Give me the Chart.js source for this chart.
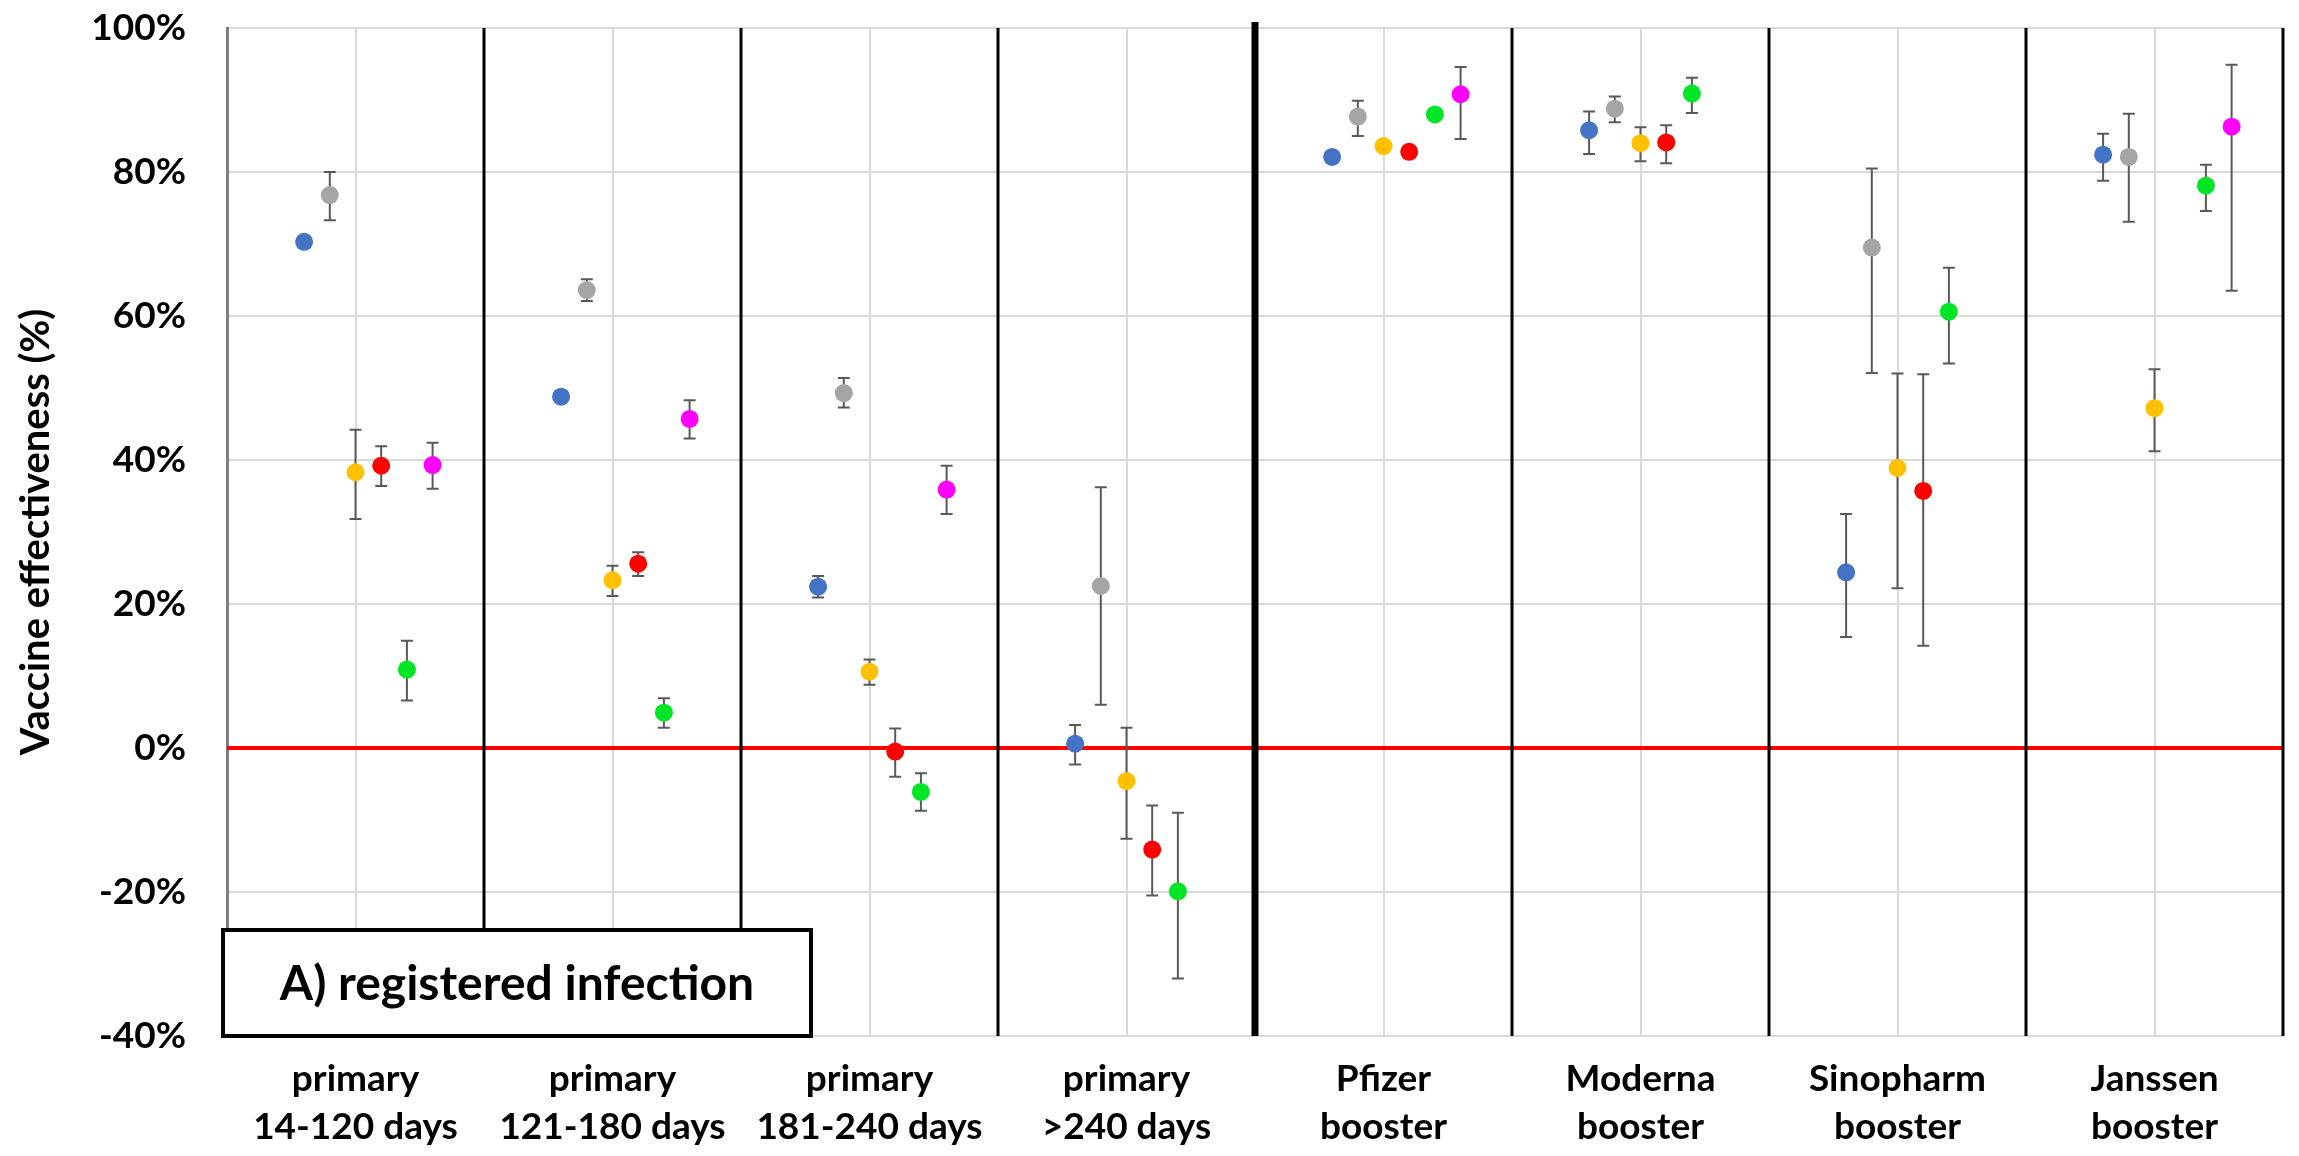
<!DOCTYPE html>
<html>
<head>
<meta charset="utf-8">
<script src="https://cdn.jsdelivr.net/npm/chart.js@4/dist/chart.umd.min.js"></script>
<style>
  body { margin: 0; background: #fff; }
  canvas { display: block; }
</style>
</head>
<body>
<canvas id="veChart" width="2299" height="1156"></canvas>
<script>
// Categories (x axis), two lines each
const categories = [
  ["primary", "14-120 days"],
  ["primary", "121-180 days"],
  ["primary", "181-240 days"],
  ["primary", ">240 days"],
  ["Pfizer", "booster"],
  ["Moderna", "booster"],
  ["Sinopharm", "booster"],
  ["Janssen", "booster"]
];
const yTicks = [-40, -20, 0, 20, 40, 60, 80, 100];
const referenceLine = 0;
const primaryCount = 4;
const panelLabel = "A) registered infection";
const yTitle = "Vaccine effectiveness (%)";

// Point estimates and 95% CI per series (null = not shown)
const blueVE  = [70.3, 48.8, 22.4, 0.6, 82.1, 85.8, 24.4, 82.4];
const blueLo  = [null, null, 20.9, -2.3, null, 82.5, 15.4, 78.8];
const blueHi  = [null, null, 23.9, 3.2, null, 88.4, 32.5, 85.3];

const grayVE  = [76.8, 63.6, 49.3, 22.5, 87.7, 88.8, 69.5, 82.1];
const grayLo  = [73.3, 62.1, 47.3, 6.0, 85.0, 86.9, 52.1, 73.1];
const grayHi  = [80.0, 65.1, 51.4, 36.2, 89.9, 90.5, 80.5, 88.1];

const yellowVE = [38.3, 23.3, 10.6, -4.6, 83.6, 84.0, 38.9, 47.2];
const yellowLo = [31.8, 21.1, 8.8, -12.6, null, 81.5, 22.2, 41.2];
const yellowHi = [44.2, 25.3, 12.3, 2.8, null, 86.2, 52.0, 52.6];

const redVE  = [39.2, 25.6, -0.5, -14.1, 82.8, 84.1, 35.7, null];
const redLo  = [36.4, 23.9, -4.0, -20.5, null, 81.2, 14.2, null];
const redHi  = [41.9, 27.2, 2.7, -8.0, null, 86.5, 51.9, null];

const greenVE = [10.9, 4.9, -6.1, -19.9, 88.0, 90.9, 60.6, 78.1];
const greenLo = [6.6, 2.8, -8.7, -32.0, null, 88.2, 53.4, 74.6];
const greenHi = [14.9, 6.9, -3.5, -9.0, null, 93.1, 66.7, 81.0];

const magentaVE = [39.3, 45.7, 35.9, null, 90.8, null, null, 86.3];
const magentaLo = [36.0, 43.0, 32.5, null, 84.6, null, null, 63.5];
const magentaHi = [42.4, 48.3, 39.2, null, 94.6, null, null, 94.9];

const FONT = "Lato, 'Open Sans', sans-serif";

function makeSeries(vals, lo, hi, color, shift) {
  const pts = [];
  vals.forEach((v, i) => {
    if (v === null) return;
    pts.push({ x: i + shift, y: v, lo: lo[i], hi: hi[i] });
  });
  return {
    data: pts,
    backgroundColor: color,
    borderWidth: 0,
    pointRadius: 9,
    pointHoverRadius: 9
  };
}

// error bars, zero line, group separators, panel label
const overlayPlugin = {
  id: "overlay",
  beforeDatasetsDraw(chart) {
    const { ctx, chartArea: a, scales: { x, y } } = chart;
    ctx.save();

    const y0 = y.getPixelForValue(referenceLine);
    ctx.strokeStyle = "#FF0000";
    ctx.lineWidth = 4;
    ctx.beginPath();
    ctx.moveTo(a.left, y0);
    ctx.lineTo(a.right, y0);
    ctx.stroke();

    ctx.strokeStyle = "#000";
    for (let i = 1; i <= categories.length; i++) {
      const px = x.getPixelForValue(i - 0.5);
      const thick = i === primaryCount;
      ctx.lineWidth = thick ? 7 : 3;
      ctx.beginPath();
      ctx.moveTo(px, a.top - (thick ? 6 : 0));
      ctx.lineTo(px, a.bottom);
      ctx.stroke();
    }

    ctx.strokeStyle = "#595959";
    ctx.lineWidth = 2;
    chart.data.datasets.forEach(ds => {
      ds.data.forEach(p => {
        if (p.lo == null || p.hi == null) return;
        const px = x.getPixelForValue(p.x);
        const yl = y.getPixelForValue(p.lo);
        const yh = y.getPixelForValue(p.hi);
        ctx.beginPath();
        ctx.moveTo(px, yl); ctx.lineTo(px, yh);
        ctx.moveTo(px - 6, yl); ctx.lineTo(px + 6, yl);
        ctx.moveTo(px - 6, yh); ctx.lineTo(px + 6, yh);
        ctx.stroke();
      });
    });
    ctx.restore();
  },
  afterDatasetsDraw(chart) {
    const { ctx, chartArea: a } = chart;
    const bx = a.left - 4, bw = 588, bh = 106, by = a.bottom - bh;
    ctx.save();
    ctx.fillStyle = "#fff";
    ctx.fillRect(bx, by, bw, bh);
    ctx.strokeStyle = "#000";
    ctx.lineWidth = 4;
    ctx.strokeRect(bx, by, bw, bh);
    ctx.fillStyle = "#000";
    ctx.font = "bold 48px " + FONT;
    ctx.textAlign = "center";
    ctx.textBaseline = "middle";
    ctx.fillText(panelLabel, bx + bw / 2, by + bh / 2 + 2);
    ctx.restore();
  }
};

new Chart(document.getElementById("veChart"), {
  type: "scatter",
  data: {
    datasets: [
      makeSeries(blueVE, blueLo, blueHi, "#4472C4", -0.2),
      makeSeries(grayVE, grayLo, grayHi, "#A5A5A5", -0.1),
      makeSeries(yellowVE, yellowLo, yellowHi, "#FFC000", 0),
      makeSeries(redVE, redLo, redHi, "#FF0000", 0.1),
      makeSeries(greenVE, greenLo, greenHi, "#00E626", 0.2),
      makeSeries(magentaVE, magentaLo, magentaHi, "#FF00FF", 0.3)
    ]
  },
  options: {
    responsive: false,
    devicePixelRatio: 1,
    animation: false,
    layout: { padding: { left: 0, top: 28, right: 16, bottom: 0 } },
    plugins: { legend: { display: false }, tooltip: { enabled: false } },
    scales: {
      x: {
        type: "linear",
        min: -0.5,
        max: categories.length - 0.5,
        afterBuildTicks: s => { s.ticks = categories.map((_, i) => ({ value: i })); },
        afterFit: s => { s.height = 120; s.paddingLeft = 0; s.paddingRight = 0; },
        grid: { color: "#D9D9D9", lineWidth: 2, drawTicks: false },
        border: { display: false },
        ticks: {
          autoSkip: false,
          maxRotation: 0,
          padding: 19,
          color: "#000",
          font: { family: FONT, size: 37, weight: "bold", lineHeight: 1.3 },
          callback: v => categories[v]
        }
      },
      y: {
        min: yTicks[0],
        max: yTicks[yTicks.length - 1],
        afterBuildTicks: s => { s.ticks = yTicks.map(v => ({ value: v })); },
        afterFit: s => { s.width = 227; s.paddingTop = 0; s.paddingBottom = 0; },
        grid: { color: "#D9D9D9", lineWidth: 2, drawTicks: false },
        border: { color: "#7F7F7F", width: 3 },
        ticks: {
          padding: 41,
          color: "#000",
          font: { family: FONT, size: 37, weight: "bold" },
          callback: v => v + "%"
        },
        title: {
          display: true,
          text: yTitle,
          color: "#000",
          padding: { top: 12, bottom: 0 },
          font: { family: FONT, size: 40, weight: "bold", lineHeight: 1.2 }
        }
      }
    }
  },
  plugins: [overlayPlugin]
});
</script>
</body>
</html>
